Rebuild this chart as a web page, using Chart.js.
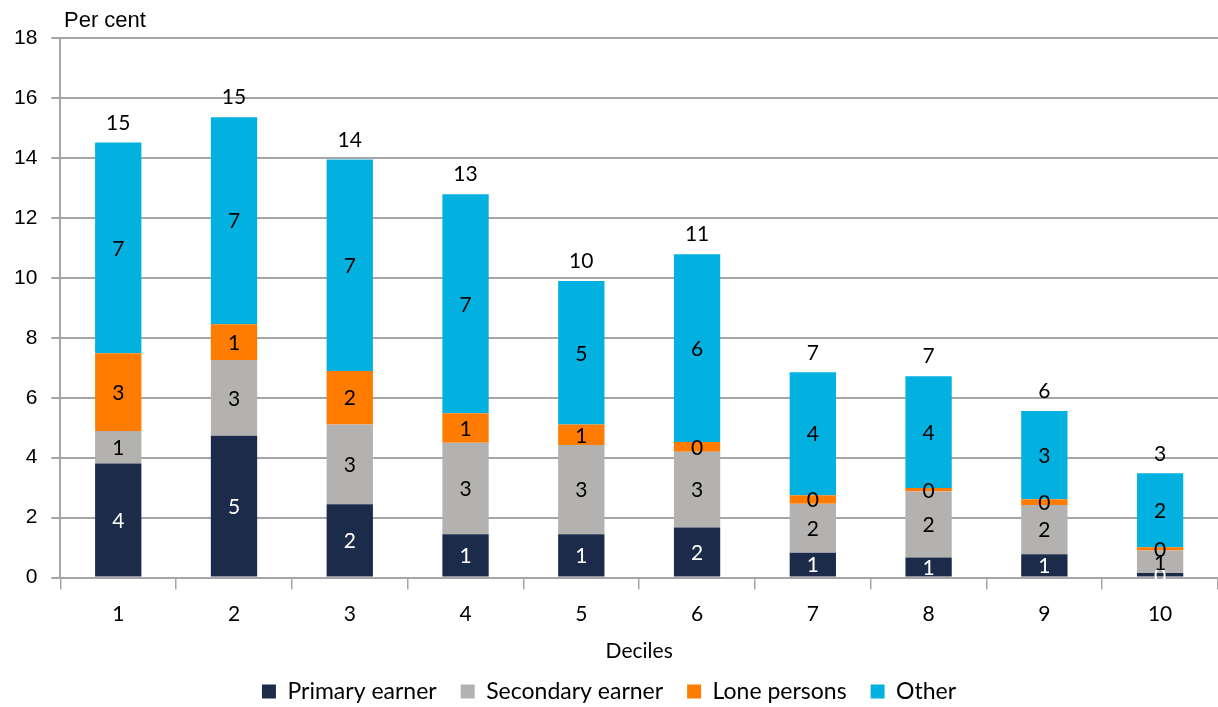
<!DOCTYPE html>
<html>
<head>
<meta charset="utf-8">
<script src="https://cdn.jsdelivr.net/npm/chart.js@4"></script>
<style>
  body { margin: 0; background: #fff; }
  #wrap { width: 1218px; height: 707px; position: relative; }
</style>
</head>
<body>
<div id="wrap"><canvas id="decileChart"></canvas></div>
<script>
// Data
const deciles = ["1", "2", "3", "4", "5", "6", "7", "8", "9", "10"];
const primaryEarner = [3.81, 4.73, 2.45, 1.45, 1.45, 1.67, 0.83, 0.67, 0.78, 0.15];
const secondaryEarner = [1.08, 2.53, 2.66, 3.05, 2.97, 2.53, 1.63, 2.20, 1.64, 0.75];
const lonePersons = [2.59, 1.19, 1.78, 0.98, 0.69, 0.32, 0.29, 0.12, 0.19, 0.11];
const other = [7.03, 6.91, 7.06, 7.31, 4.78, 6.27, 4.10, 3.73, 2.95, 2.47];
const yTicks = [0, 2, 4, 6, 8, 10, 12, 14, 16, 18];

const calibriLike = "Lato, 'Open Sans', sans-serif";
const arialLike = "'Liberation Sans', Arial, sans-serif";
const gridGrey = "#a6a6a6";

// Segment values and totals drawn as text
const barLabels = {
  id: "barLabels",
  afterDatasetsDraw(chart) {
    const ctx = chart.ctx;
    ctx.save();
    ctx.font = "21px " + calibriLike;
    ctx.textAlign = "center";
    ctx.textBaseline = "middle";
    chart.data.datasets.forEach((ds, di) => {
      const meta = chart.getDatasetMeta(di);
      meta.data.forEach((el, i) => {
        ctx.fillStyle = di === 0 ? "#ffffff" : "#000000";
        ctx.fillText(Math.round(ds.data[i]), el.x, (el.y + el.base) / 2 + 1);
      });
    });
    const last = chart.getDatasetMeta(chart.data.datasets.length - 1);
    ctx.fillStyle = "#000000";
    ctx.textBaseline = "bottom";
    last.data.forEach((el, i) => {
      let total = 0;
      chart.data.datasets.forEach(ds => { total += ds.data[i]; });
      ctx.fillText(Math.round(total), el.x, el.y - 9);
    });
    // y axis caption
    ctx.font = "22px " + arialLike;
    ctx.textAlign = "left";
    ctx.textBaseline = "middle";
    ctx.fillText("Per cent", 64, 21);
    ctx.restore();
  }
};

new Chart(document.getElementById("decileChart"), {
  type: "bar",
  data: {
    labels: deciles,
    datasets: [
      { label: "Primary earner", data: primaryEarner, backgroundColor: "#1b2b49" },
      { label: "Secondary earner", data: secondaryEarner, backgroundColor: "#b3b2b1" },
      { label: "Lone persons", data: lonePersons, backgroundColor: "#ff7c00" },
      { label: "Other", data: other, backgroundColor: "#03b1e0" }
    ]
  },
  options: {
    responsive: true,
    maintainAspectRatio: false,
    animation: false,
    layout: { padding: { top: 38, right: 0, left: 0, bottom: -6 } },
    datasets: {
      bar: { categoryPercentage: 1, barPercentage: 0.4, borderWidth: 0 }
    },
    plugins: {
      legend: {
        position: "bottom",
        labels: {
          boxWidth: 14,
          boxHeight: 14,
          padding: 24,
          color: "#000",
          font: { family: calibriLike, size: 23 }
        }
      },
      tooltip: { enabled: false }
    },
    scales: {
      x: {
        stacked: true,
        offset: true,
        grid: {
          offset: true,
          drawOnChartArea: false,
          color: gridGrey,
          lineWidth: 1.5,
          tickLength: 12
        },
        border: { color: gridGrey, width: 2 },
        ticks: { color: "#000", font: { family: calibriLike, size: 21 }, padding: 12 },
        title: {
          display: true,
          text: "Deciles",
          color: "#000",
          font: { family: calibriLike, size: 21 },
          padding: { top: 0, bottom: -8 }
        }
      },
      y: {
        stacked: true,
        min: 0,
        max: 18,
        afterBuildTicks(axis) {
          axis.ticks = yTicks.map(v => ({ value: v }));
        },
        grid: { color: gridGrey, lineWidth: 2, tickLength: 9 },
        border: { color: gridGrey, width: 2 },
        ticks: { color: "#000", font: { family: arialLike, size: 21 }, padding: 14 }
      }
    }
  },
  plugins: [barLabels]
});
</script>
</body>
</html>
